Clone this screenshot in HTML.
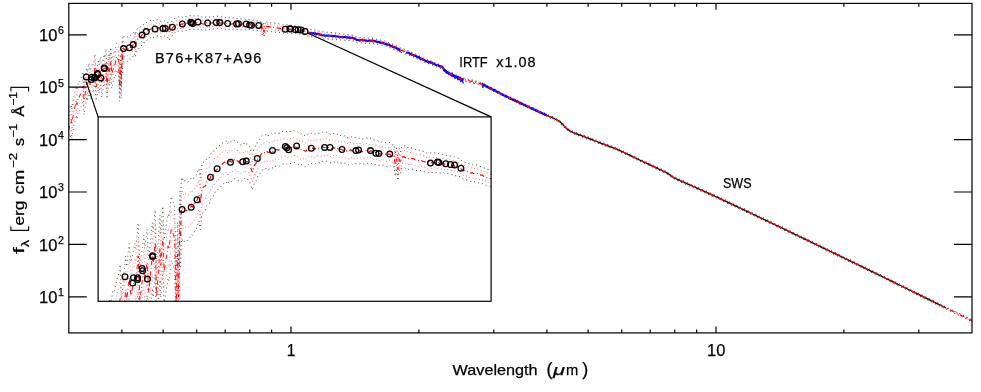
<!DOCTYPE html>
<html><head><meta charset="utf-8"><title>SED</title>
<style>html,body{margin:0;padding:0;background:#fff;}svg{display:block;}</style>
</head><body>
<svg width="981" height="392" viewBox="0 0 981 392" font-family="Liberation Sans, sans-serif" fill="#000">
<rect width="981" height="392" fill="#fff"/>
<defs>
<clipPath id="cm"><rect x="68.8" y="3.4" width="903.2" height="329.5"/></clipPath>
<clipPath id="ci"><rect x="98.1" y="116.9" width="393.0" height="184.4"/></clipPath>
</defs>
<g clip-path="url(#cm)" fill="none" stroke-linejoin="round">
<path d="M68.7 115.8L71.1 104.8L71.7 109.7L73.1 101.4L74.1 95.4L76.4 86.1L76.9 90.3L78.3 82.6L79.2 83.1L81.4 77.1L81.8 76.6L83.2 71.7L84.0 86.3L86.8 68.2L87.4 72.6L89.0 63.0L90.1 70.8L92.7 63.0L93.3 65.1L94.9 54.2L96.0 73.1L98.6 59.5L99.1 65.1L100.7 57.0L101.7 69.7L104.1 54.2L104.6 58.1L106.0 48.8L106.9 71.5L109.1 51.1L109.6 58.6L110.9 47.3L111.8 61.4L114.3 50.5L114.9 51.9L116.5 43.2L118.6 47.3L119.6 74.6L120.5 54.1L121.2 72.2L122.0 40.7" stroke="#000" stroke-width="1" stroke-dasharray="1 3.2" stroke-opacity="0.62"/>
<path d="M68.7 145.0L71.1 133.9L71.7 138.8L73.1 130.5L74.1 124.4L76.4 114.9L76.9 119.2L78.3 111.4L79.2 111.9L81.4 105.8L81.8 105.3L83.2 100.2L84.0 114.8L86.8 96.6L87.4 101.0L89.0 91.3L90.1 99.0L92.7 91.0L93.3 93.1L94.9 82.1L96.0 101.0L98.6 87.2L99.1 92.8L100.7 84.6L101.7 97.3L104.1 81.7L104.6 85.5L106.0 76.2L106.9 98.8L109.1 78.2L109.6 85.7L110.9 74.4L111.8 88.4L114.3 77.4L114.9 78.7L116.5 69.9L118.6 73.9L119.6 101.2L120.5 80.6L121.2 98.6L122.0 67.1" stroke="#000" stroke-width="1" stroke-dasharray="1 3.2" stroke-opacity="0.62"/>
<path d="M68.7 122.3L71.1 111.2L71.7 116.2L73.1 107.9L74.1 101.8L76.4 92.5L76.9 96.7L78.3 89.0L79.2 89.5L81.4 83.5L81.8 83.0L83.2 78.0L84.0 92.6L86.8 74.5L87.4 78.9L89.0 69.3L90.1 77.0L92.7 69.2L93.3 71.3L94.9 60.4L96.0 79.3L98.6 65.6L99.1 71.3L100.7 63.1L101.7 75.8L104.1 60.3L104.6 64.2L106.0 54.9L106.9 77.6L109.1 57.1L109.6 64.6L110.9 53.3L111.8 67.4L114.3 56.5L114.9 57.9L116.5 49.1L118.6 53.2L119.6 80.5L120.5 60.0L121.2 78.0L122.0 46.6" stroke="#ff0000" stroke-width="1" stroke-dasharray="1 2.5" stroke-opacity="0.4"/>
<path d="M68.7 138.5L71.1 127.4L71.7 132.4L73.1 124.0L74.1 117.9L76.4 108.5L76.9 112.8L78.3 105.0L79.2 105.5L81.4 99.4L81.8 98.9L83.2 93.9L84.0 108.4L86.8 90.3L87.4 94.7L89.0 85.0L90.1 92.7L92.7 84.8L93.3 86.9L94.9 75.9L96.0 94.8L98.6 81.1L99.1 86.7L100.7 78.5L101.7 91.2L104.1 75.6L104.6 79.4L106.0 70.1L106.9 92.7L109.1 72.2L109.6 79.7L110.9 68.4L111.8 82.4L114.3 71.4L114.9 72.8L116.5 64.0L118.6 68.0L119.6 95.3L120.5 74.7L121.2 92.7L122.0 61.2" stroke="#ff0000" stroke-width="1" stroke-dasharray="1 2.5" stroke-opacity="0.4"/>
<path d="M122.5 46.7L122.9 36.3L123.5 35.1L124.3 37.0L125.2 36.6L126.0 36.5L126.9 37.2L127.7 36.9L128.5 36.4L129.4 35.3L130.2 35.9L131.1 35.4L131.9 34.6L132.8 34.2L133.6 32.8L134.5 31.5L135.3 35.5L136.2 30.4L137.0 29.0L137.9 28.6L138.7 28.6L139.5 27.0L140.4 26.9L141.2 26.7L142.1 25.2L142.9 24.8L143.8 24.7L144.6 23.2L145.5 23.1L146.3 22.8L147.2 22.0L148.0 21.8L148.9 21.3L149.7 20.7L150.6 20.4L151.4 20.2L152.2 19.9L153.1 21.1L153.9 20.2L154.8 19.9L155.6 20.5L156.5 19.9L157.3 19.8L158.2 19.7L159.0 20.2L159.9 20.5L160.7 21.2L161.6 21.6L162.4 21.4L163.2 21.6L164.1 20.6L164.9 21.3L165.8 21.1L166.6 21.3L167.5 22.2L168.3 24.1L169.2 25.5L170.0 23.7L170.9 22.3L171.7 21.8L172.6 20.3L173.4 19.5L174.3 19.0L175.1 18.0L175.9 17.4L176.8 17.7L177.6 17.4L178.5 16.9L179.3 17.6L180.2 17.5L181.0 17.2L181.9 16.8L182.7 17.3L183.6 16.7L184.4 16.5L185.3 16.5L186.1 16.8L186.9 16.6L187.8 16.0L188.6 15.9L189.5 15.8L190.3 15.6L191.2 15.8L192.0 16.3L192.9 16.0L193.7 15.9L194.6 15.9L195.4 15.6L196.3 15.6L197.1 15.8L198.0 15.9L198.8 16.2L199.6 16.7L200.5 17.2L201.3 16.8L202.2 17.2L203.0 17.5L203.9 17.8L204.7 17.3L205.6 17.0L206.4 16.5L207.3 16.9L208.1 16.5L209.0 16.8L209.8 17.1L210.6 16.7L211.5 16.6L212.3 16.7L213.2 16.7L214.0 16.7L214.9 16.2L215.7 16.5L216.6 16.6L217.4 16.2L218.3 16.6L219.1 16.7L220.0 17.1L220.8 17.2L221.7 16.8L222.5 16.9L223.3 17.2L224.2 16.9L225.0 17.3L225.9 17.9L226.7 17.5L227.6 17.8L228.4 18.1L229.3 17.7L230.1 18.2L231.0 18.4L231.8 18.6L232.7 18.1L233.5 18.0L234.3 18.5L235.2 18.6L236.0 18.3L236.9 18.5L237.7 18.7L238.6 18.8L239.4 18.6L240.3 19.0L241.1 19.0L242.0 18.8L242.8 18.6L243.7 18.6L244.5 18.8L245.4 19.2L246.2 18.8L247.0 19.0L247.9 19.5L248.7 19.5L249.6 19.6L250.4 19.6L251.3 20.0L252.1 20.3L253.0 20.4L253.8 20.2L254.7 20.2L255.5 20.5L256.4 20.8L257.2 21.0L258.0 20.6L258.9 20.6L259.7 21.4L260.6 21.5L261.4 21.2L262.3 25.3L263.1 22.7L264.0 27.2L264.8 22.9L265.7 24.4L266.5 22.1L267.4 22.0L268.2 22.0L269.0 22.4L269.9 22.2L270.7 22.8L271.6 22.7L272.4 22.8L273.3 22.9L274.1 23.0L275.0 23.3L275.8 23.5L276.7 23.5L277.5 23.9L278.4 23.7L279.2 23.9L280.1 24.2L280.9 24.4L281.7 24.5L282.6 24.9L283.4 25.0L284.3 24.7L285.1 25.0L286.0 24.9L286.8 25.0L287.7 24.9L288.5 25.0L289.4 25.3L290.2 25.1L291.1 25.4L291.9 25.5L292.7 25.6L293.6 25.3L294.4 25.7L295.3 25.9L296.1 25.9L297.0 25.8L297.8 26.2L298.7 26.3L299.5 26.4L300.4 26.3L301.2 26.8L302.1 27.0L302.9 27.0L303.8 27.4L304.6 27.4L305.4 28.2L306.3 28.4L307.1 28.6L308.0 28.9L308.8 28.9L309.7 29.3L310.5 29.5L311.4 29.7L312.2 29.5L313.1 30.0L313.9 29.9L314.8 30.0L315.6 30.0L316.4 30.4L317.3 30.6L318.1 30.7L319.0 30.8L319.8 31.3L320.7 31.2L321.5 31.7L322.4 31.8L323.2 31.9L324.1 32.2L327.0 32.2L333.0 32.7L340.0 33.8L346.0 34.3L350.2 34.8L354.0 35.4L357.5 37.4L362.0 37.3L366.0 38.1L371.0 38.0L377.0 39.3L383.2 40.6L388.0 42.2L392.0 44.0L396.0 45.8L400.4 47.8L403.0 48.8L406.2 50.0L413.0 53.0L420.0 56.3L423.2 57.9L430.0 60.6L436.0 63.0L442.0 65.4L443.3 66.7L444.6 68.9L447.0 70.3L450.0 71.9L453.6 73.7L458.0 75.8L463.4 78.0L470.0 79.5L476.0 80.9L482.5 82.9L490.0 86.8L500.0 92.1L510.0 96.9L520.0 101.7L533.0 107.7L546.8 114.1L552.0 116.3L557.1 118.7L560.0 120.5L563.0 123.5L566.0 126.7L569.0 129.2L572.0 130.8L576.0 132.4L580.4 134.0L590.0 137.7L600.0 141.6L616.0 147.6L628.0 153.2L640.0 159.0L655.0 166.0L666.8 171.6L669.5 173.4L672.0 175.4L675.7 177.4L690.0 183.8L711.4 193.4L740.0 206.8L780.0 225.9L820.0 245.2L860.0 264.5L900.0 284.1L946.6 307.2L972.0 319.5L985.0 325.9" stroke="#000" stroke-width="1" stroke-dasharray="1 3.2" stroke-opacity="0.8"/>
<path d="M122.5 72.9L122.9 62.3L123.5 61.0L124.3 62.6L125.2 61.9L126.0 61.5L126.9 61.9L127.7 61.3L128.5 60.5L129.4 59.1L130.2 59.4L131.1 58.6L131.9 57.5L132.8 56.7L133.6 55.1L134.5 53.4L135.3 57.1L136.2 51.7L137.0 50.0L137.9 49.2L138.7 48.9L139.5 47.0L140.4 46.6L141.2 46.1L142.1 44.3L142.9 43.6L143.8 43.2L144.6 41.5L145.5 41.3L146.3 40.8L147.2 39.9L148.0 39.6L148.9 38.9L149.7 38.2L150.6 37.7L151.4 37.3L152.2 36.9L153.1 38.0L153.9 37.0L154.8 36.5L155.6 36.9L156.5 36.1L157.3 35.9L158.2 35.6L159.0 36.0L159.9 36.2L160.7 36.7L161.6 37.0L162.4 36.6L163.2 36.6L164.1 35.6L164.9 36.3L165.8 36.0L166.6 36.2L167.5 37.1L168.3 38.9L169.2 40.3L170.0 38.5L170.9 37.0L171.7 36.5L172.6 34.9L173.4 34.1L174.3 33.5L175.1 32.5L175.9 31.9L176.8 32.1L177.6 31.8L178.5 31.2L179.3 31.9L180.2 31.8L181.0 31.4L181.9 31.0L182.7 31.4L183.6 30.7L184.4 30.6L185.3 30.5L186.1 30.7L186.9 30.5L187.8 29.8L188.6 29.7L189.5 29.5L190.3 29.3L191.2 29.4L192.0 29.9L192.9 29.6L193.7 29.4L194.6 29.3L195.4 29.0L196.3 28.9L197.1 29.1L198.0 29.2L198.8 29.4L199.6 29.9L200.5 30.3L201.3 29.8L202.2 30.2L203.0 30.5L203.9 30.7L204.7 30.1L205.6 29.8L206.4 29.2L207.3 29.6L208.1 29.2L209.0 29.4L209.8 29.7L210.6 29.2L211.5 29.1L212.3 29.1L213.2 29.1L214.0 29.0L214.9 28.5L215.7 28.7L216.6 28.7L217.4 28.4L218.3 28.6L219.1 28.8L220.0 29.0L220.8 29.2L221.7 28.6L222.5 28.7L223.3 29.0L224.2 28.7L225.0 29.0L225.9 29.5L226.7 29.1L227.6 29.4L228.4 29.6L229.3 29.2L230.1 29.6L231.0 29.8L231.8 29.9L232.7 29.4L233.5 29.2L234.3 29.7L235.2 29.7L236.0 29.3L236.9 29.5L237.7 29.6L238.6 29.7L239.4 29.4L240.3 29.8L241.1 29.8L242.0 29.5L242.8 29.3L243.7 29.2L244.5 29.4L245.4 29.7L246.2 29.2L247.0 29.4L247.9 29.8L248.7 29.7L249.6 29.8L250.4 29.8L251.3 30.1L252.1 30.3L253.0 30.4L253.8 30.1L254.7 30.0L255.5 30.3L256.4 30.6L257.2 30.6L258.0 30.3L258.9 30.2L259.7 30.9L260.6 31.0L261.4 30.7L262.3 34.7L263.1 32.1L264.0 36.5L264.8 32.2L265.7 33.6L266.5 31.3L267.4 31.2L268.2 31.1L269.0 31.5L269.9 31.2L270.7 31.8L271.6 31.6L272.4 31.7L273.3 31.7L274.1 31.8L275.0 32.1L275.8 32.3L276.7 32.2L277.5 32.5L278.4 32.3L279.2 32.4L280.1 32.7L280.9 32.8L281.7 32.9L282.6 33.3L283.4 33.3L284.3 33.0L285.1 33.2L286.0 33.1L286.8 33.1L287.7 33.0L288.5 33.0L289.4 33.3L290.2 33.1L291.1 33.3L291.9 33.4L292.7 33.5L293.6 33.2L294.4 33.6L295.3 33.7L296.1 33.6L297.0 33.6L297.8 33.9L298.7 34.0L299.5 34.1L300.4 33.9L301.2 34.4L302.1 34.6L302.9 34.6L303.8 34.9L304.6 34.9L305.4 35.6L306.3 35.8L307.1 36.0L308.0 36.3L308.8 36.3L309.7 36.6L310.5 36.8L311.4 37.0L312.2 36.8L313.1 37.2L313.9 37.1L314.8 37.2L315.6 37.1L316.4 37.5L317.3 37.6L318.1 37.7L319.0 37.8L319.8 38.2L320.7 38.2L321.5 38.6L322.4 38.7L323.2 38.8L324.1 39.1L327.0 39.0L333.0 39.3L340.0 40.0L346.0 40.3L350.2 40.6L354.0 41.2L357.5 43.0L362.0 42.7L366.0 43.3L371.0 43.2L377.0 44.3L383.2 45.4L388.0 47.0L392.0 48.6L396.0 50.2L400.4 52.2L403.0 53.0L406.2 54.2L413.0 57.0L420.0 60.1L423.2 61.7L430.0 64.2L436.0 66.6L442.0 68.8L443.3 70.1L444.6 72.3L447.0 73.7L450.0 75.3L453.6 77.1L458.0 79.0L463.4 81.2L470.0 82.5L476.0 83.9L482.5 85.7L490.0 89.6L500.0 94.7L510.0 99.5L520.0 104.3L533.0 110.3L546.8 116.7L552.0 118.9L557.1 121.3L560.0 123.1L563.0 126.1L566.0 129.3L569.0 131.6L572.0 133.2L576.0 134.8L580.4 136.4L590.0 140.1L600.0 144.0L616.0 150.0L628.0 155.6L640.0 161.4L655.0 168.4L666.8 174.0L669.5 175.8L672.0 177.8L675.7 179.8L690.0 186.2L711.4 195.8L740.0 209.2L780.0 228.3L820.0 247.6L860.0 266.9L900.0 286.5L946.6 309.4L972.0 321.7L985.0 328.1" stroke="#000" stroke-width="1" stroke-dasharray="1 3.2" stroke-opacity="0.8"/>
<path d="M122.5 52.5L122.9 42.1L123.5 40.8L124.3 42.7L125.2 42.2L126.0 42.0L126.9 42.7L127.7 42.3L128.5 41.7L129.4 40.6L130.2 41.1L131.1 40.6L131.9 39.7L132.8 39.2L133.6 37.8L134.5 36.4L135.3 40.3L136.2 35.1L137.0 33.7L137.9 33.2L138.7 33.1L139.5 31.4L140.4 31.3L141.2 31.1L142.1 29.4L142.9 29.0L143.8 28.8L144.6 27.3L145.5 27.1L146.3 26.8L147.2 25.9L148.0 25.8L148.9 25.2L149.7 24.6L150.6 24.2L151.4 24.0L152.2 23.7L153.1 24.9L153.9 24.0L154.8 23.6L155.6 24.2L156.5 23.5L157.3 23.3L158.2 23.2L159.0 23.7L159.9 24.0L160.7 24.6L161.6 25.0L162.4 24.8L163.2 24.9L164.1 23.9L164.9 24.6L165.8 24.4L166.6 24.6L167.5 25.5L168.3 27.4L169.2 28.8L170.0 27.0L170.9 25.6L171.7 25.1L172.6 23.5L173.4 22.7L174.3 22.2L175.1 21.3L175.9 20.7L176.8 20.9L177.6 20.6L178.5 20.0L179.3 20.8L180.2 20.7L181.0 20.3L181.9 20.0L182.7 20.4L183.6 19.8L184.4 19.7L185.3 19.6L186.1 19.9L186.9 19.7L187.8 19.1L188.6 19.0L189.5 18.8L190.3 18.7L191.2 18.8L192.0 19.3L192.9 19.0L193.7 18.9L194.6 18.9L195.4 18.6L196.3 18.5L197.1 18.8L198.0 18.9L198.8 19.1L199.6 19.6L200.5 20.1L201.3 19.7L202.2 20.1L203.0 20.4L203.9 20.6L204.7 20.1L205.6 19.8L206.4 19.3L207.3 19.7L208.1 19.3L209.0 19.6L209.8 19.9L210.6 19.4L211.5 19.4L212.3 19.4L213.2 19.5L214.0 19.4L214.9 18.9L215.7 19.2L216.6 19.3L217.4 18.9L218.3 19.2L219.1 19.4L220.0 19.7L220.8 19.9L221.7 19.4L222.5 19.5L223.3 19.8L224.2 19.5L225.0 19.9L225.9 20.5L226.7 20.1L227.6 20.4L228.4 20.6L229.3 20.3L230.1 20.7L231.0 20.9L231.8 21.1L232.7 20.6L233.5 20.5L234.3 21.0L235.2 21.1L236.0 20.8L236.9 21.0L237.7 21.1L238.6 21.2L239.4 21.0L240.3 21.4L241.1 21.4L242.0 21.2L242.8 21.0L243.7 21.0L244.5 21.2L245.4 21.5L246.2 21.1L247.0 21.3L247.9 21.8L248.7 21.7L249.6 21.9L250.4 21.9L251.3 22.2L252.1 22.5L253.0 22.6L253.8 22.4L254.7 22.4L255.5 22.6L256.4 23.0L257.2 23.1L258.0 22.8L258.9 22.7L259.7 23.5L260.6 23.6L261.4 23.3L262.3 27.4L263.1 24.8L264.0 29.3L264.8 25.0L265.7 26.4L266.5 24.1L267.4 24.1L268.2 24.0L269.0 24.4L269.9 24.2L270.7 24.8L271.6 24.7L272.4 24.8L273.3 24.8L274.1 24.9L275.0 25.3L275.8 25.5L276.7 25.5L277.5 25.8L278.4 25.6L279.2 25.8L280.1 26.1L280.9 26.3L281.7 26.3L282.6 26.8L283.4 26.8L284.3 26.6L285.1 26.8L286.0 26.7L286.8 26.8L287.7 26.7L288.5 26.8L289.4 27.0L290.2 26.9L291.1 27.1L291.9 27.2L292.7 27.4L293.6 27.1L294.4 27.5L295.3 27.6L296.1 27.6L297.0 27.6L297.8 27.9L298.7 28.0L299.5 28.1L300.4 28.0L301.2 28.5L302.1 28.7L302.9 28.7L303.8 29.1L304.6 29.1L305.4 29.8L306.3 30.0L307.1 30.2L308.0 30.6L308.8 30.6L309.7 30.9L310.5 31.1L311.4 31.3L312.2 31.1L313.1 31.6L313.9 31.5L314.8 31.6L315.6 31.6L316.4 32.0L317.3 32.1L318.1 32.3L319.0 32.3L319.8 32.8L320.7 32.8L321.5 33.3L322.4 33.4L323.2 33.5L324.1 33.8L327.0 33.7L333.0 34.2L340.0 35.2L346.0 35.6L350.2 36.1L354.0 36.7L357.5 38.6L362.0 38.5L366.0 39.2L371.0 39.2L377.0 40.4L383.2 41.7L388.0 43.3L392.0 45.0L396.0 46.8L400.4 48.8L403.0 49.7L406.2 50.9L413.0 53.9L420.0 57.2L423.2 58.8L430.0 61.4L436.0 63.8L442.0 66.1L443.3 67.4L444.6 69.6L447.0 71.1L450.0 72.7L453.6 74.5L458.0 76.5L463.4 78.7L470.0 80.2L476.0 81.6L482.5 83.5L490.0 87.4L500.0 92.7L510.0 97.5L520.0 102.3L533.0 108.3L546.8 114.7L552.0 116.9L557.1 119.3L560.0 121.1L563.0 124.1L566.0 127.3L569.0 129.7L572.0 131.3L576.0 132.9L580.4 134.5L590.0 138.2L600.0 142.1L616.0 148.1L628.0 153.7L640.0 159.5L655.0 166.5L666.8 172.1L669.5 173.9L672.0 175.9L675.7 177.9L690.0 184.3L711.4 193.9L740.0 207.3L780.0 226.4L820.0 245.7L860.0 265.0L900.0 284.7L946.6 307.7L972.0 320.0L985.0 326.4" stroke="#ff0000" stroke-width="1" stroke-dasharray="1 2.5" stroke-opacity="0.62"/>
<path d="M122.5 67.1L122.9 56.5L123.5 55.2L124.3 56.9L125.2 56.3L126.0 55.9L126.9 56.4L127.7 55.9L128.5 55.1L129.4 53.8L130.2 54.2L131.1 53.5L131.9 52.4L132.8 51.7L133.6 50.1L134.5 48.5L135.3 52.3L136.2 46.9L137.0 45.4L137.9 44.7L138.7 44.4L139.5 42.6L140.4 42.3L141.2 41.8L142.1 40.0L142.9 39.4L143.8 39.1L144.6 37.4L145.5 37.2L146.3 36.8L147.2 35.9L148.0 35.6L148.9 35.0L149.7 34.3L150.6 33.9L151.4 33.5L152.2 33.1L153.1 34.2L153.9 33.3L154.8 32.8L155.6 33.3L156.5 32.5L157.3 32.3L158.2 32.1L159.0 32.5L159.9 32.7L160.7 33.3L161.6 33.6L162.4 33.2L163.2 33.3L164.1 32.3L164.9 32.9L165.8 32.7L166.6 32.9L167.5 33.8L168.3 35.6L169.2 37.0L170.0 35.2L170.9 33.8L171.7 33.2L172.6 31.7L173.4 30.8L174.3 30.3L175.1 29.3L175.9 28.7L176.8 28.9L177.6 28.6L178.5 28.0L179.3 28.7L180.2 28.6L181.0 28.2L181.9 27.8L182.7 28.3L183.6 27.6L184.4 27.4L185.3 27.4L186.1 27.7L186.9 27.4L187.8 26.7L188.6 26.6L189.5 26.4L190.3 26.3L191.2 26.4L192.0 26.9L192.9 26.5L193.7 26.4L194.6 26.3L195.4 26.0L196.3 25.9L197.1 26.2L198.0 26.3L198.8 26.5L199.6 26.9L200.5 27.4L201.3 26.9L202.2 27.3L203.0 27.6L203.9 27.8L204.7 27.3L205.6 27.0L206.4 26.4L207.3 26.8L208.1 26.4L209.0 26.6L209.8 26.9L210.6 26.4L211.5 26.3L212.3 26.3L213.2 26.4L214.0 26.3L214.9 25.7L215.7 26.0L216.6 26.0L217.4 25.7L218.3 26.0L219.1 26.1L220.0 26.4L220.8 26.5L221.7 26.0L222.5 26.1L223.3 26.4L224.2 26.0L225.0 26.4L225.9 27.0L226.7 26.6L227.6 26.8L228.4 27.0L229.3 26.6L230.1 27.0L231.0 27.3L231.8 27.4L232.7 26.9L233.5 26.7L234.3 27.2L235.2 27.3L236.0 26.9L236.9 27.1L237.7 27.2L238.6 27.2L239.4 27.0L240.3 27.4L241.1 27.4L242.0 27.1L242.8 26.9L243.7 26.9L244.5 27.0L245.4 27.3L246.2 26.9L247.0 27.1L247.9 27.5L248.7 27.4L249.6 27.6L250.4 27.5L251.3 27.8L252.1 28.1L253.0 28.2L253.8 27.9L254.7 27.8L255.5 28.1L256.4 28.4L257.2 28.5L258.0 28.1L258.9 28.1L259.7 28.8L260.6 28.9L261.4 28.6L262.3 32.6L263.1 30.0L264.0 34.5L264.8 30.1L265.7 31.6L266.5 29.2L267.4 29.1L268.2 29.0L269.0 29.4L269.9 29.2L270.7 29.8L271.6 29.6L272.4 29.7L273.3 29.7L274.1 29.8L275.0 30.2L275.8 30.3L276.7 30.3L277.5 30.6L278.4 30.4L279.2 30.5L280.1 30.8L280.9 31.0L281.7 31.0L282.6 31.4L283.4 31.5L284.3 31.2L285.1 31.4L286.0 31.3L286.8 31.3L287.7 31.2L288.5 31.2L289.4 31.5L290.2 31.3L291.1 31.5L291.9 31.6L292.7 31.7L293.6 31.4L294.4 31.8L295.3 31.9L296.1 31.9L297.0 31.9L297.8 32.2L298.7 32.3L299.5 32.4L300.4 32.2L301.2 32.7L302.1 32.9L302.9 32.9L303.8 33.2L304.6 33.2L305.4 34.0L306.3 34.2L307.1 34.4L308.0 34.7L308.8 34.7L309.7 34.9L310.5 35.1L311.4 35.3L312.2 35.2L313.1 35.6L313.9 35.5L314.8 35.6L315.6 35.5L316.4 35.9L317.3 36.1L318.1 36.2L319.0 36.2L319.8 36.7L320.7 36.6L321.5 37.1L322.4 37.2L323.2 37.3L324.1 37.5L327.0 37.5L333.0 37.8L340.0 38.6L346.0 39.0L350.2 39.3L354.0 39.9L357.5 41.8L362.0 41.5L366.0 42.2L371.0 42.0L377.0 43.2L383.2 44.3L388.0 45.9L392.0 47.6L396.0 49.2L400.4 51.2L403.0 52.1L406.2 53.3L413.0 56.1L420.0 59.2L423.2 60.8L430.0 63.4L436.0 65.8L442.0 68.1L443.3 69.4L444.6 71.6L447.0 72.9L450.0 74.5L453.6 76.3L458.0 78.3L463.4 80.5L470.0 81.8L476.0 83.2L482.5 85.1L490.0 89.0L500.0 94.1L510.0 98.9L520.0 103.7L533.0 109.7L546.8 116.1L552.0 118.3L557.1 120.7L560.0 122.5L563.0 125.5L566.0 128.7L569.0 131.1L572.0 132.7L576.0 134.3L580.4 135.9L590.0 139.6L600.0 143.5L616.0 149.5L628.0 155.1L640.0 160.9L655.0 167.9L666.8 173.5L669.5 175.3L672.0 177.3L675.7 179.3L690.0 185.7L711.4 195.3L740.0 208.7L780.0 227.8L820.0 247.1L860.0 266.4L900.0 285.9L946.6 308.9L972.0 321.2L985.0 327.6" stroke="#ff0000" stroke-width="1" stroke-dasharray="1 2.5" stroke-opacity="0.62"/>
</g>
<g clip-path="url(#cm)">
<path d="M308.00 32.39L308.70 32.75L309.40 32.77L310.10 33.22L310.80 33.23L311.50 33.17L312.20 33.36L312.90 33.35L313.60 33.14L314.30 33.89L315.00 33.23L315.70 33.71L316.40 34.07L317.10 34.08L317.80 33.87L318.50 34.44L319.20 34.14L319.90 34.51L320.60 34.65L321.30 35.21L322.00 35.30L322.70 35.46L323.40 35.34L324.10 35.62L324.80 35.43L325.50 35.57L326.20 35.72L326.90 35.55L327.60 35.73L328.30 35.58L329.00 35.63L329.70 35.79L330.40 35.79L331.10 35.98L331.80 35.95L332.50 36.28L333.20 35.99L333.90 36.07L334.60 36.02L335.30 36.30L336.00 36.51L336.70 36.34L337.40 36.56L338.10 36.79L338.80 36.72L339.50 36.74L340.20 37.09L340.90 36.98L341.60 37.08L342.30 37.26L343.00 37.31L343.70 37.08L344.40 37.10L345.10 37.29L345.80 37.26L346.50 37.01L347.20 37.64L347.90 37.48L348.60 37.68L349.30 37.40L350.00 37.91L350.70 37.67L351.40 37.87L352.10 37.75L352.80 38.08L353.50 38.18L354.20 38.38L354.90 38.87L355.60 39.18L356.30 39.72L357.00 39.84L357.70 40.01L358.40 40.16L359.10 40.24L359.80 40.32L360.50 40.21L361.20 39.72L361.90 40.07L362.60 40.37L363.30 40.24L364.00 40.26L364.70 40.53L365.40 40.50L366.10 40.81L366.80 40.68L367.50 40.92L368.20 40.75L368.90 40.51L369.60 40.74L370.30 40.78L371.00 40.50L371.70 40.66L372.40 40.47L373.10 41.18L373.80 41.05L374.50 40.92L375.20 41.12L375.90 41.54L376.60 41.86L377.30 41.84L378.00 42.08L378.70 41.93L379.40 42.02L380.10 42.56L380.80 42.62L381.50 42.67L382.20 43.04L382.90 42.77L383.60 43.06L384.30 43.55L385.00 43.93L385.70 43.83L386.40 44.37L387.10 44.19L387.80 44.59L388.50 44.78L389.20 44.82L389.90 45.45L390.60 45.87L391.30 45.98L392.00 46.29L392.70 46.85L393.40 46.67L394.10 46.92L394.80 47.37L395.50 47.57L396.20 48.33L396.90 48.46L397.60 48.57L398.30 48.93L399.00 49.88L399.70 49.57L400.40 49.86" stroke="#0000ff" stroke-width="2.15" fill="none" stroke-linejoin="round"/>
<path d="M406.20 52.18L406.90 52.56L407.60 52.75L408.30 52.77L409.00 53.00L409.70 53.74L410.40 53.88L411.10 53.78L411.80 54.78L412.50 54.98L413.20 55.03L413.90 55.35L414.60 55.79L415.30 55.88L416.00 56.03L416.70 56.77L417.40 56.65L418.10 57.43L418.80 57.29L419.50 57.95L420.20 58.27L420.90 59.10L421.60 58.73L422.30 59.00L423.00 59.54L423.70 59.71L424.40 60.11L425.10 60.63L425.80 60.99L426.50 61.48L427.20 61.15L427.90 62.26L428.60 62.36L429.30 62.08L430.00 61.83L430.70 62.66L431.40 62.98L432.10 62.67L432.80 63.54L433.50 63.75L434.20 63.88L434.90 64.52L435.60 64.89L436.30 64.79L437.00 65.24L437.70 65.29L438.40 65.52L439.10 66.01L439.80 66.39L440.50 66.38L441.20 66.24L441.90 67.21L442.60 67.30L443.30 68.43L444.00 70.03L444.70 70.65L445.40 70.77L446.10 71.11L446.80 72.18L447.50 72.26L448.20 72.77L448.90 73.24L449.60 73.37L450.30 73.67L451.00 73.86L451.70 73.68L452.40 74.42L453.10 75.13L453.80 75.45L454.50 75.91L455.20 76.10L455.90 76.49L456.60 76.96L457.30 76.86L458.00 77.33L458.70 77.28L459.40 78.21L460.10 78.27L460.80 78.66L461.50 79.21L462.20 79.38L462.90 79.38L463.60 79.84" stroke="#0000ff" stroke-width="2.15" fill="none" stroke-linejoin="round"/>
<path d="M482.30 83.93L483.00 84.66L483.70 84.95L484.40 84.93L485.10 85.95L485.80 85.86L486.50 86.53L487.20 86.65L487.90 87.33L488.60 87.76L489.30 87.65L490.00 87.86L490.70 88.54L491.40 89.11L492.10 89.21L492.80 89.52L493.50 90.13L494.20 89.78L494.90 90.60L495.60 90.81L496.30 91.54L497.00 91.68L497.70 91.96L498.40 92.49L499.10 92.61L499.80 93.29L500.50 93.49L501.20 93.89L501.90 94.15L502.60 94.85L503.30 94.96L504.00 95.44L504.70 95.76L505.40 95.81L506.10 96.45L506.80 96.74L507.50 97.07L508.20 97.25L508.90 97.58L509.60 98.18L510.30 98.82L511.00 98.50L511.70 99.13L512.40 99.27L513.10 99.86L513.80 100.12L514.50 100.59L515.20 100.08L515.90 100.90L516.60 101.15L517.30 101.68L518.00 101.88L518.70 102.23L519.40 102.86L520.10 103.46L520.80 102.75L521.50 103.62L522.20 104.08L522.90 104.34L523.60 104.59L524.30 104.69L525.00 105.10L525.70 105.79L526.40 106.19L527.10 106.30L527.80 106.42L528.50 106.94L529.20 107.19L529.90 107.69L530.60 107.92L531.30 108.08L532.00 108.58L532.70 108.60L533.40 109.37L534.10 109.77L534.80 109.58L535.50 110.25L536.20 110.27L536.90 111.04L537.60 111.33L538.30 111.41L539.00 112.00L539.70 112.01L540.40 112.29L541.10 112.63L541.80 113.05L542.50 113.33L543.20 113.76L543.90 113.92L544.60 114.55L545.30 114.93L546.00 114.92L546.70 115.04" stroke="#0000ff" stroke-width="2.15" fill="none" stroke-linejoin="round"/>
<path d="M546.00 115.03L548.00 115.91L550.00 116.75L552.00 117.60L554.00 118.54L556.00 119.48L558.00 120.56L560.00 121.80L562.00 123.80L564.00 125.87L566.00 128.00L568.00 129.60L570.00 130.93L572.00 132.00L574.00 132.80L576.00 133.60L578.00 134.33L580.00 135.05L582.00 135.82L584.00 136.59L586.00 137.36L588.00 138.13L590.00 138.90L592.00 139.68L594.00 140.46L596.00 141.24L598.00 142.02L600.00 142.80L602.00 143.55L604.00 144.30L606.00 145.05L608.00 145.80L610.00 146.55L612.00 147.30L614.00 148.05L616.00 148.80L618.00 149.73L620.00 150.67L622.00 151.60L624.00 152.53L626.00 153.47L628.00 154.40L630.00 155.37L632.00 156.33L634.00 157.30L636.00 158.27L638.00 159.23L640.00 160.20L642.00 161.13L644.00 162.07L646.00 163.00L648.00 163.93L650.00 164.87L652.00 165.80L654.00 166.73L656.00 167.67L658.00 168.62L660.00 169.57L662.00 170.52L664.00 171.47L666.00 172.42L668.00 173.60L670.00 175.00L672.00 176.60L674.00 177.68L676.00 178.73L678.00 179.63L680.00 180.52L682.00 181.42L684.00 182.31L686.00 183.21L688.00 184.10L690.00 185.00L692.00 185.90L694.00 186.79L696.00 187.69L698.00 188.59L700.00 189.49L702.00 190.38L704.00 191.28L706.00 192.18L708.00 193.07L710.00 193.97L712.00 194.88L714.00 195.82L716.00 196.76L718.00 197.69L720.00 198.63L722.00 199.57L724.00 200.50L726.00 201.44L728.00 202.38L730.00 203.31L732.00 204.25L734.00 205.19L736.00 206.13L738.00 207.06L740.00 208.00L742.00 208.96L744.00 209.91L746.00 210.87L748.00 211.82L750.00 212.78L752.00 213.73L754.00 214.69L756.00 215.64L758.00 216.60L760.00 217.55L762.00 218.50L764.00 219.46L766.00 220.42L768.00 221.37L770.00 222.32L772.00 223.28L774.00 224.24L776.00 225.19L778.00 226.15L780.00 227.10L782.00 228.06L784.00 229.03L786.00 230.00L788.00 230.96L790.00 231.93L792.00 232.89L794.00 233.86L796.00 234.82L798.00 235.79L800.00 236.75L802.00 237.72L804.00 238.68L806.00 239.65L808.00 240.61L810.00 241.58L812.00 242.54L814.00 243.50L816.00 244.47L818.00 245.44L820.00 246.40L822.00 247.37L824.00 248.33L826.00 249.30L828.00 250.26L830.00 251.23L832.00 252.19L834.00 253.16L836.00 254.12L838.00 255.09L840.00 256.05L842.00 257.01L844.00 257.98L846.00 258.94L848.00 259.91L850.00 260.88L852.00 261.84L854.00 262.81L856.00 263.77L858.00 264.74L860.00 265.70L862.00 266.68L864.00 267.66L866.00 268.64L868.00 269.62L870.00 270.60L872.00 271.58L874.00 272.56L876.00 273.54L878.00 274.52L880.00 275.50L882.00 276.48L884.00 277.46L886.00 278.44L888.00 279.42L890.00 280.40L892.00 281.38L894.00 282.36L896.00 283.34L898.00 284.32L900.00 285.30L902.00 286.29L904.00 287.27L906.00 288.26L908.00 289.25L910.00 290.24L912.00 291.22L914.00 292.21L916.00 293.20L918.00 294.18L920.00 295.17L922.00 296.16L924.00 297.15L926.00 298.13L928.00 299.12L930.00 300.11L932.00 301.09L934.00 302.08L936.00 303.07L938.00 304.06L940.00 305.04L942.00 306.03L944.00 307.02L946.00 308.00" stroke="#000" stroke-width="1.25" fill="none" stroke-linejoin="round"/>
</g>
<g clip-path="url(#cm)" fill="none" stroke="#0000ff" stroke-width="1.2">
<path d="M444.6 70.6L446 72.8L447.4 72L449 74.6L450.6 73.8L452 76.6L453.6 75.6L455 78.4L456.6 77.2L458 79.8L459.4 78.6L460.8 81.4L462 80.2L463.4 83.4"/>
<path d="M482.4 82.6L482.8 88L483.4 84.6"/>
<path d="M399.6 49.6L400.3 52.4"/>
</g>
<g clip-path="url(#cm)" fill="none" stroke-linejoin="round" stroke="#ff0000">
<path d="M68.7 130.4L71.1 119.3L71.7 124.3L73.1 116.0L74.1 109.9L76.4 100.5L76.9 104.8L78.3 97.0L79.2 97.5L81.4 91.4L81.8 91.0L83.2 86.0L84.0 100.5L86.8 82.4L87.4 86.8L89.0 77.2L90.1 84.9L92.7 77.0L93.3 79.1L94.9 68.1L96.0 87.1L98.6 73.4L99.1 79.0L100.7 70.8L101.7 83.5L104.1 67.9L104.6 71.8L106.0 62.5L106.9 85.2L109.1 64.6L109.6 72.1L110.9 60.8L111.8 74.9L114.3 63.9L114.9 65.3L116.5 56.5L118.6 60.6L119.6 87.9L120.5 67.3L121.2 85.4L122.0 53.9" stroke-width="0.95" stroke-dasharray="4.6 2.6 0.9 2.6"/>
<path d="M122.5 59.8L122.9 49.3L123.5 48.0L124.3 49.8L125.2 49.3L126.0 49.0L126.9 49.6L127.7 49.1L128.5 48.4L129.4 47.2L130.2 47.7L131.1 47.0L131.9 46.0L132.8 45.4L133.6 43.9L134.5 42.5L135.3 46.3L136.2 41.0L137.0 39.5L137.9 38.9L138.7 38.7L139.5 37.0L140.4 36.8L141.2 36.4L142.1 34.7L142.9 34.2L143.8 33.9L144.6 32.4L145.5 32.2L146.3 31.8L147.2 30.9L148.0 30.7L148.9 30.1L149.7 29.5L150.6 29.1L151.4 28.7L152.2 28.4L153.1 29.6L153.9 28.6L154.8 28.2L155.6 28.7L156.5 28.0L157.3 27.8L158.2 27.6L159.0 28.1L159.9 28.3L160.7 29.0L161.6 29.3L162.4 29.0L163.2 29.1L164.1 28.1L164.9 28.8L165.8 28.6L166.6 28.7L167.5 29.7L168.3 31.5L169.2 32.9L170.0 31.1L170.9 29.7L171.7 29.1L172.6 27.6L173.4 26.8L174.3 26.3L175.1 25.3L175.9 24.7L176.8 24.9L177.6 24.6L178.5 24.0L179.3 24.7L180.2 24.6L181.0 24.3L181.9 23.9L182.7 24.3L183.6 23.7L184.4 23.5L185.3 23.5L186.1 23.8L186.9 23.5L187.8 22.9L188.6 22.8L189.5 22.6L190.3 22.5L191.2 22.6L192.0 23.1L192.9 22.8L193.7 22.7L194.6 22.6L195.4 22.3L196.3 22.2L197.1 22.5L198.0 22.6L198.8 22.8L199.6 23.3L200.5 23.8L201.3 23.3L202.2 23.7L203.0 24.0L203.9 24.2L204.7 23.7L205.6 23.4L206.4 22.8L207.3 23.2L208.1 22.8L209.0 23.1L209.8 23.4L210.6 22.9L211.5 22.8L212.3 22.9L213.2 22.9L214.0 22.9L214.9 22.3L215.7 22.6L216.6 22.6L217.4 22.3L218.3 22.6L219.1 22.8L220.0 23.0L220.8 23.2L221.7 22.7L222.5 22.8L223.3 23.1L224.2 22.8L225.0 23.1L225.9 23.7L226.7 23.3L227.6 23.6L228.4 23.8L229.3 23.5L230.1 23.9L231.0 24.1L231.8 24.2L232.7 23.7L233.5 23.6L234.3 24.1L235.2 24.2L236.0 23.8L236.9 24.0L237.7 24.1L238.6 24.2L239.4 24.0L240.3 24.4L241.1 24.4L242.0 24.1L242.8 24.0L243.7 23.9L244.5 24.1L245.4 24.4L246.2 24.0L247.0 24.2L247.9 24.6L248.7 24.6L249.6 24.7L250.4 24.7L251.3 25.0L252.1 25.3L253.0 25.4L253.8 25.1L254.7 25.1L255.5 25.4L256.4 25.7L257.2 25.8L258.0 25.4L258.9 25.4L259.7 26.1L260.6 26.3L261.4 25.9L262.3 30.0L263.1 27.4L264.0 31.9L264.8 27.6L265.7 29.0L266.5 26.7L267.4 26.6L268.2 26.5L269.0 26.9L269.9 26.7L270.7 27.3L271.6 27.1L272.4 27.3L273.3 27.3L274.1 27.4L275.0 27.7L275.8 27.9L276.7 27.9L277.5 28.2L278.4 28.0L279.2 28.2L280.1 28.4L280.9 28.6L281.7 28.7L282.6 29.1L283.4 29.2L284.3 28.9L285.1 29.1L286.0 29.0L286.8 29.0L287.7 28.9L288.5 29.0L289.4 29.3L290.2 29.1L291.1 29.3L291.9 29.4L292.7 29.6L293.6 29.3L294.4 29.6L295.3 29.8L296.1 29.7L297.0 29.7L297.8 30.0L298.7 30.2L299.5 30.2L300.4 30.1L301.2 30.6L302.1 30.8L302.9 30.8L303.8 31.2L304.6 31.2L305.4 31.9L306.3 32.1L307.1 32.3L308.0 32.6L308.8 32.6L309.7 32.9L310.5 33.1L311.4 33.3L312.2 33.2L313.1 33.6L313.9 33.5L314.8 33.6L315.6 33.5L316.4 33.9L317.3 34.1L318.1 34.2L319.0 34.3L319.8 34.8L320.7 34.7L321.5 35.2L322.4 35.3L323.2 35.4L324.1 35.7L327.0 35.6L333.0 36.0L340.0 36.9L346.0 37.3L350.2 37.7L354.0 38.3L357.5 40.2L362.0 40.0L366.0 40.7L371.0 40.6L377.0 41.8L383.2 43.0L388.0 44.6L392.0 46.3L396.0 48.0L400.4 50.0L403.0 50.9L406.2 52.1L413.0 55.0L420.0 58.2L423.2 59.8L430.0 62.4L436.0 64.8L442.0 67.1L443.3 68.4L444.6 70.6L447.0 72.0L450.0 73.6L453.6 75.4L458.0 77.4L463.4 79.6L470.0 81.0L476.0 82.4L482.5 84.3L490.0 88.2L500.0 93.4L510.0 98.2L520.0 103.0L533.0 109.0L546.8 115.4L552.0 117.6L557.1 120.0L560.0 121.8L563.0 124.8L566.0 128.0L569.0 130.4L572.0 132.0L576.0 133.6L580.4 135.2L590.0 138.9L600.0 142.8L616.0 148.8L628.0 154.4L640.0 160.2L655.0 167.2L666.8 172.8L669.5 174.6L672.0 176.6L675.7 178.6L690.0 185.0L711.4 194.6L740.0 208.0L780.0 227.1L820.0 246.4L860.0 265.7L900.0 285.3L946.6 308.3L972.0 320.6L985.0 327.0" stroke-width="1.2" stroke-dasharray="4.6 2.6 0.9 2.6"/>
</g>
<g fill="none" stroke="#000" stroke-width="1.3">
<circle cx="86.3" cy="76.9" r="2.85"/>
<circle cx="91.3" cy="79.6" r="2.85"/>
<circle cx="91.8" cy="77.3" r="2.85"/>
<circle cx="94.5" cy="77.3" r="2.85"/>
<circle cx="94.5" cy="78.0" r="2.85"/>
<circle cx="97.4" cy="73.4" r="2.85"/>
<circle cx="97.7" cy="74.4" r="2.85"/>
<circle cx="100.9" cy="77.9" r="2.85"/>
<circle cx="104.3" cy="68.1" r="2.85"/>
<circle cx="104.3" cy="68.4" r="2.85"/>
<circle cx="123.5" cy="48.6" r="2.85"/>
<circle cx="129.4" cy="47.7" r="2.85"/>
<circle cx="133.2" cy="44.6" r="2.85"/>
<circle cx="142.0" cy="35.1" r="2.85"/>
<circle cx="146.3" cy="31.6" r="2.85"/>
<circle cx="155.0" cy="28.9" r="2.85"/>
<circle cx="162.9" cy="28.6" r="2.85"/>
<circle cx="165.3" cy="28.4" r="2.85"/>
<circle cx="172.4" cy="27.2" r="2.85"/>
<circle cx="182.3" cy="23.9" r="2.85"/>
<circle cx="190.7" cy="22.2" r="2.85"/>
<circle cx="191.6" cy="22.7" r="2.85"/>
<circle cx="192.8" cy="23.6" r="2.85"/>
<circle cx="198.0" cy="22.0" r="2.85"/>
<circle cx="207.6" cy="23.0" r="2.85"/>
<circle cx="216.2" cy="22.6" r="2.85"/>
<circle cx="219.8" cy="22.6" r="2.85"/>
<circle cx="227.6" cy="23.5" r="2.85"/>
<circle cx="236.6" cy="23.9" r="2.85"/>
<circle cx="238.4" cy="23.7" r="2.85"/>
<circle cx="246.1" cy="23.9" r="2.85"/>
<circle cx="249.6" cy="25.1" r="2.85"/>
<circle cx="251.5" cy="25.2" r="2.85"/>
<circle cx="258.7" cy="25.4" r="2.85"/>
<circle cx="285.2" cy="29.2" r="2.85"/>
<circle cx="289.8" cy="28.7" r="2.85"/>
<circle cx="290.7" cy="28.9" r="2.85"/>
<circle cx="295.1" cy="29.5" r="2.85"/>
<circle cx="298.2" cy="29.8" r="2.85"/>
<circle cx="300.9" cy="29.9" r="2.85"/>
<circle cx="305.0" cy="31.4" r="2.85"/>
</g>
<rect x="98.1" y="116.9" width="393.0" height="184.4" fill="#fff" stroke="none"/>
<g clip-path="url(#ci)" fill="none" stroke-linejoin="round">
<path d="M98.0 369.4L101.7 343.2L102.6 355.0L104.8 335.2L106.3 320.8L109.8 298.6L110.6 308.7L112.7 290.4L114.1 291.6L117.4 277.3L118.2 276.2L120.2 264.4L121.5 299.1L125.7 256.1L126.7 266.6L129.2 243.7L130.9 262.1L134.9 243.5L135.8 248.7L138.2 222.6L139.9 267.7L143.8 235.2L144.7 248.7L147.1 229.3L148.7 259.6L152.3 222.7L153.1 231.9L155.2 209.8L156.6 263.9L160.0 215.2L160.8 233.1L162.8 206.3L164.1 239.7L168.1 213.9L169.0 217.2L171.3 196.4L174.6 206.3L176.2 271.4L177.5 222.4L178.6 265.5L179.8 190.6" stroke="#000" stroke-width="1" stroke-dasharray="1 3.2" stroke-opacity="0.62"/>
<path d="M98.0 439.1L101.7 412.6L102.6 424.3L104.8 404.4L106.3 389.8L109.8 367.4L110.6 377.5L112.7 359.0L114.1 360.1L117.4 345.5L118.2 344.3L120.2 332.4L121.5 367.0L125.7 323.7L126.7 334.1L129.2 311.0L130.9 329.3L134.9 310.4L135.8 315.4L138.2 289.2L139.9 334.2L143.8 301.4L144.7 314.7L147.1 295.2L148.7 325.4L152.3 288.1L153.1 297.2L155.2 275.0L156.6 329.0L160.0 279.9L160.8 297.7L162.8 270.7L164.1 304.1L168.1 277.9L169.0 281.1L171.3 260.1L174.6 269.7L176.2 334.6L177.5 285.6L178.6 328.5L179.8 253.4" stroke="#000" stroke-width="1" stroke-dasharray="1 3.2" stroke-opacity="0.62"/>
<path d="M98.0 384.9L101.7 358.6L102.6 370.4L104.8 350.6L106.3 336.1L109.8 313.9L110.6 324.0L112.7 305.6L114.1 306.8L117.4 292.5L118.2 291.3L120.2 279.5L121.5 314.2L125.7 271.1L126.7 281.6L129.2 258.7L130.9 277.1L134.9 258.4L135.8 263.5L138.2 237.4L139.9 282.5L143.8 249.9L144.7 263.4L147.1 244.0L148.7 274.2L152.3 237.2L153.1 246.4L155.2 224.3L156.6 278.4L160.0 229.6L160.8 247.4L162.8 220.6L164.1 254.0L168.1 228.1L169.0 231.4L171.3 210.6L174.6 220.4L176.2 285.4L177.5 236.5L178.6 279.5L179.8 204.5" stroke="#ff0000" stroke-width="1" stroke-dasharray="1 2.5" stroke-opacity="0.4"/>
<path d="M98.0 423.6L101.7 397.1L102.6 408.9L104.8 389.0L106.3 374.5L109.8 352.1L110.6 362.2L112.7 343.7L114.1 344.9L117.4 330.4L118.2 329.2L120.2 317.3L121.5 351.9L125.7 308.6L126.7 319.1L129.2 296.1L130.9 314.4L134.9 295.5L135.8 300.6L138.2 274.4L139.9 319.4L143.8 286.7L144.7 300.1L147.1 280.5L148.7 310.8L152.3 273.5L153.1 282.7L155.2 260.5L156.6 314.5L160.0 265.5L160.8 283.3L162.8 256.4L164.1 289.8L168.1 263.7L169.0 266.9L171.3 246.0L174.6 255.6L176.2 320.6L177.5 271.5L178.6 314.5L179.8 239.5" stroke="#ff0000" stroke-width="1" stroke-dasharray="1 2.5" stroke-opacity="0.4"/>
<path d="M180.6 204.8L181.3 180.0L182.1 177.2L183.4 181.7L184.7 180.8L186.0 180.5L187.3 182.2L188.6 181.5L189.9 180.3L191.2 177.8L192.5 179.1L193.8 178.0L195.1 176.0L196.4 175.0L197.7 171.7L199.0 168.6L200.3 178.1L201.6 165.9L202.9 162.7L204.2 161.6L205.5 161.6L206.8 157.9L208.1 157.7L209.4 157.3L210.7 153.6L212.0 152.7L213.3 152.4L214.6 148.8L215.9 148.6L217.2 147.8L218.5 145.9L219.8 145.6L221.1 144.3L222.4 143.0L223.7 142.2L225.0 141.6L226.3 140.9L227.6 143.9L228.9 141.8L230.2 141.0L231.5 142.4L232.8 140.9L234.1 140.6L235.4 140.4L236.7 141.7L238.0 142.4L239.3 144.0L240.6 145.1L241.9 144.6L243.2 144.9L244.5 142.6L245.8 144.2L247.1 143.8L248.4 144.2L249.7 146.5L251.0 150.9L252.3 154.3L253.6 150.1L254.9 146.7L256.2 145.5L257.5 141.9L258.8 140.0L260.1 138.8L261.4 136.5L262.7 135.1L264.0 135.6L265.3 135.0L266.6 133.7L267.9 135.5L269.2 135.3L270.5 134.5L271.8 133.7L273.1 134.7L274.4 133.3L275.7 133.0L277.0 132.9L278.3 133.6L279.6 133.1L280.9 131.6L282.2 131.4L283.5 131.1L284.8 130.7L286.1 131.1L287.4 132.4L288.7 131.7L290.0 131.5L291.3 131.4L292.6 130.7L293.9 130.6L295.2 131.3L296.5 131.5L297.8 132.1L299.1 133.3L300.4 134.5L301.7 133.5L303.0 134.5L304.3 135.3L305.6 135.9L306.9 134.7L308.2 134.0L309.5 132.8L310.8 133.7L312.1 132.9L313.4 133.6L314.7 134.3L316.0 133.2L317.3 133.1L318.6 133.3L319.9 133.5L321.2 133.4L322.5 132.2L323.8 132.9L325.1 133.0L326.4 132.3L327.7 133.0L329.0 133.4L330.3 134.2L331.6 134.6L332.9 133.5L334.2 133.8L335.5 134.6L336.8 133.8L338.1 134.7L339.4 136.2L340.7 135.3L342.0 136.0L343.3 136.6L344.6 135.8L345.9 136.9L347.2 137.5L348.5 137.8L349.8 136.7L351.1 136.5L352.4 137.6L353.7 137.9L355.0 137.1L356.3 137.7L357.6 138.0L358.9 138.3L360.2 137.9L361.5 138.9L362.8 138.9L364.1 138.3L365.4 137.9L366.7 137.9L368.0 138.4L369.3 139.3L370.6 138.3L371.9 138.9L373.2 140.0L374.5 139.9L375.8 140.3L377.1 140.3L378.4 141.2L379.7 141.9L381.0 142.2L382.3 141.6L383.6 141.6L384.9 142.3L386.2 143.1L387.5 143.5L388.8 142.7L390.1 142.7L391.4 144.4L392.7 144.8L394.0 144.2L395.3 153.9L396.6 147.7L397.9 158.4L399.2 148.2L400.5 151.6L401.8 146.2L403.1 146.1L404.4 145.9L405.7 146.9L407.0 146.4L408.3 148.0L409.6 147.6L410.9 147.9L412.2 148.0L413.5 148.2L414.8 149.2L416.1 149.6L417.4 149.6L418.7 150.4L420.0 149.9L421.3 150.5L422.6 151.1L423.9 151.6L425.2 151.8L426.5 153.0L427.8 153.1L429.1 152.5L430.4 153.0L431.7 152.8L433.0 153.1L434.3 152.8L435.6 153.0L436.9 153.7L438.2 153.4L439.5 154.0L440.8 154.3L442.1 154.6L443.4 153.9L444.7 154.9L446.0 155.2L447.3 155.2L448.6 155.1L449.9 155.9L451.2 156.2L452.5 156.5L453.8 156.2L455.1 157.5L456.4 157.9L457.7 158.0L459.0 158.8L460.3 158.9L461.6 160.6L462.9 161.2L464.2 161.7L465.5 162.5L466.8 162.5L468.1 163.2L469.4 163.8L470.7 164.3L472.0 163.9L473.3 165.0L474.6 164.7L475.9 165.0L477.2 165.0L478.5 165.9L479.8 166.4L481.1 166.7L482.4 166.9L483.7 168.0L485.0 168.0L486.3 169.2L487.6 169.4L488.9 169.6L490.2 170.4L494.7 170.4" stroke="#000" stroke-width="1" stroke-dasharray="1 3.2" stroke-opacity="0.8"/>
<path d="M180.6 267.2L181.3 242.0L182.1 238.8L183.4 242.6L184.7 241.0L186.0 240.0L187.3 241.0L188.6 239.6L189.9 237.6L191.2 234.4L192.5 235.1L193.8 233.2L195.1 230.5L196.4 228.7L197.7 224.7L199.0 220.8L200.3 229.6L201.6 216.7L202.9 212.7L204.2 210.9L205.5 210.1L206.8 205.6L208.1 204.7L209.4 203.5L210.7 199.0L212.0 197.4L213.3 196.4L214.6 192.5L215.9 191.9L217.2 190.7L218.5 188.5L219.8 187.8L221.1 186.2L222.4 184.6L223.7 183.4L225.0 182.5L226.3 181.5L227.6 184.1L228.9 181.6L230.2 180.5L231.5 181.6L232.8 179.7L234.1 179.0L235.4 178.4L236.7 179.4L238.0 179.7L239.3 181.0L240.6 181.7L241.9 180.8L243.2 180.8L244.5 178.4L245.8 180.0L247.1 179.4L248.4 179.7L249.7 181.9L251.0 186.2L252.3 189.5L253.6 185.3L254.9 181.8L256.2 180.4L257.5 176.7L258.8 174.7L260.1 173.5L261.4 171.1L262.7 169.5L264.0 170.0L265.3 169.3L266.6 167.9L267.9 169.5L269.2 169.2L270.5 168.3L271.8 167.4L273.1 168.3L274.4 166.8L275.7 166.3L277.0 166.2L278.3 166.8L279.6 166.1L280.9 164.6L282.2 164.3L283.5 163.8L284.8 163.4L286.1 163.6L287.4 164.8L288.7 164.0L290.0 163.6L291.3 163.4L292.6 162.7L293.9 162.4L295.2 163.0L296.5 163.1L297.8 163.6L299.1 164.7L300.4 165.8L301.7 164.6L303.0 165.5L304.3 166.2L305.6 166.7L306.9 165.3L308.2 164.6L309.5 163.2L310.8 164.0L312.1 163.0L313.4 163.7L314.7 164.2L316.0 163.0L317.3 162.8L318.6 162.8L319.9 162.9L321.2 162.7L322.5 161.4L323.8 162.0L325.1 162.0L326.4 161.2L327.7 161.8L329.0 162.1L330.3 162.7L331.6 163.0L332.9 161.8L334.2 162.0L335.5 162.7L336.8 161.8L338.1 162.6L339.4 163.9L340.7 163.0L342.0 163.5L343.3 164.0L344.6 163.1L345.9 164.0L347.2 164.5L348.5 164.7L349.8 163.5L351.1 163.2L352.4 164.2L353.7 164.4L355.0 163.5L356.3 163.9L357.6 164.1L358.9 164.2L360.2 163.7L361.5 164.6L362.8 164.5L364.1 163.8L365.4 163.3L366.7 163.1L368.0 163.5L369.3 164.2L370.6 163.1L371.9 163.6L373.2 164.6L374.5 164.4L375.8 164.6L377.1 164.5L378.4 165.2L379.7 165.8L381.0 166.0L382.3 165.2L383.6 165.1L384.9 165.7L386.2 166.3L387.5 166.6L388.8 165.6L390.1 165.5L391.4 167.1L392.7 167.4L394.0 166.6L395.3 176.3L396.6 169.9L397.9 180.6L399.2 170.3L400.5 173.6L401.8 168.1L403.1 167.8L404.4 167.5L405.7 168.5L407.0 167.9L408.3 169.3L409.6 168.9L410.9 169.1L412.2 169.1L413.5 169.2L414.8 170.0L416.1 170.4L417.4 170.3L418.7 171.0L420.0 170.4L421.3 170.8L422.6 171.4L423.9 171.8L425.2 171.9L426.5 172.9L427.8 172.9L429.1 172.2L430.4 172.6L431.7 172.4L433.0 172.5L434.3 172.1L435.6 172.2L436.9 172.8L438.2 172.4L439.5 172.9L440.8 173.1L442.1 173.4L443.4 172.6L444.7 173.5L446.0 173.8L447.3 173.7L448.6 173.6L449.9 174.2L451.2 174.5L452.5 174.7L453.8 174.4L455.1 175.6L456.4 175.9L457.7 175.9L459.0 176.7L460.3 176.7L461.6 178.4L462.9 178.9L464.2 179.3L465.5 180.1L466.8 180.0L468.1 180.7L469.4 181.1L470.7 181.6L472.0 181.2L473.3 182.1L474.6 181.8L475.9 182.1L477.2 182.0L478.5 182.8L479.8 183.2L481.1 183.5L482.4 183.6L483.7 184.6L485.0 184.5L486.3 185.6L487.6 185.8L488.9 185.9L490.2 186.6L494.7 186.4" stroke="#000" stroke-width="1" stroke-dasharray="1 3.2" stroke-opacity="0.8"/>
<path d="M180.6 218.7L181.3 193.8L182.1 190.8L183.4 195.2L184.7 194.2L186.0 193.7L187.3 195.3L188.6 194.4L189.9 193.0L191.2 190.4L192.5 191.6L193.8 190.3L195.1 188.1L196.4 186.9L197.7 183.5L199.0 180.2L200.3 189.5L201.6 177.2L202.9 173.8L204.2 172.6L205.5 172.4L206.8 168.5L208.1 168.1L209.4 167.5L210.7 163.7L212.0 162.6L213.3 162.2L214.6 158.5L215.9 158.2L217.2 157.3L218.5 155.4L219.8 155.0L221.1 153.6L222.4 152.2L223.7 151.3L225.0 150.7L226.3 150.0L227.6 152.8L228.9 150.6L230.2 149.8L231.5 151.1L232.8 149.5L234.1 149.2L235.4 148.8L236.7 150.1L238.0 150.7L239.3 152.3L240.6 153.2L241.9 152.6L243.2 152.9L244.5 150.5L245.8 152.2L247.1 151.7L248.4 152.1L249.7 154.4L251.0 158.7L252.3 162.1L253.6 157.9L254.9 154.5L256.2 153.3L257.5 149.6L258.8 147.7L260.1 146.5L261.4 144.2L262.7 142.8L264.0 143.2L265.3 142.7L266.6 141.3L267.9 143.1L269.2 142.8L270.5 142.0L271.8 141.1L273.1 142.2L274.4 140.7L275.7 140.4L277.0 140.3L278.3 141.0L279.6 140.4L280.9 139.0L282.2 138.7L283.5 138.4L284.8 138.0L286.1 138.3L287.4 139.6L288.7 138.9L290.0 138.6L291.3 138.5L292.6 137.8L293.9 137.7L295.2 138.3L296.5 138.6L297.8 139.1L299.1 140.3L300.4 141.5L301.7 140.4L303.0 141.4L304.3 142.2L305.6 142.8L306.9 141.5L308.2 140.8L309.5 139.5L310.8 140.5L312.1 139.6L313.4 140.3L314.7 141.0L316.0 139.9L317.3 139.7L318.6 139.8L319.9 140.0L321.2 139.9L322.5 138.7L323.8 139.4L325.1 139.4L326.4 138.7L327.7 139.4L329.0 139.8L330.3 140.5L331.6 140.9L332.9 139.8L334.2 140.1L335.5 140.8L336.8 140.0L338.1 140.9L339.4 142.3L340.7 141.5L342.0 142.1L343.3 142.7L344.6 141.9L345.9 142.9L347.2 143.5L348.5 143.8L349.8 142.7L351.1 142.4L352.4 143.5L353.7 143.8L355.0 143.0L356.3 143.5L357.6 143.8L358.9 144.0L360.2 143.6L361.5 144.6L362.8 144.6L364.1 144.0L365.4 143.6L366.7 143.5L368.0 144.0L369.3 144.8L370.6 143.8L371.9 144.3L373.2 145.5L374.5 145.4L375.8 145.7L377.1 145.7L378.4 146.5L379.7 147.2L381.0 147.5L382.3 146.8L383.6 146.8L384.9 147.5L386.2 148.3L387.5 148.6L388.8 147.8L390.1 147.7L391.4 149.5L392.7 149.8L394.0 149.1L395.3 158.9L396.6 152.6L397.9 163.3L399.2 153.1L400.5 156.5L401.8 151.1L403.1 150.9L404.4 150.7L405.7 151.7L407.0 151.2L408.3 152.7L409.6 152.3L410.9 152.6L412.2 152.7L413.5 152.9L414.8 153.8L416.1 154.2L417.4 154.2L418.7 155.0L420.0 154.5L421.3 155.0L422.6 155.6L423.9 156.1L425.2 156.3L426.5 157.4L427.8 157.5L429.1 156.8L430.4 157.4L431.7 157.2L433.0 157.4L434.3 157.1L435.6 157.3L436.9 158.0L438.2 157.6L439.5 158.2L440.8 158.4L442.1 158.8L443.4 158.1L444.7 159.0L446.0 159.4L447.3 159.3L448.6 159.2L449.9 160.0L451.2 160.3L452.5 160.5L453.8 160.3L455.1 161.5L456.4 161.9L457.7 162.0L459.0 162.8L460.3 162.8L461.6 164.6L462.9 165.1L464.2 165.6L465.5 166.4L466.8 166.4L468.1 167.1L469.4 167.6L470.7 168.1L472.0 167.8L473.3 168.8L474.6 168.5L475.9 168.8L477.2 168.8L478.5 169.7L479.8 170.1L481.1 170.4L482.4 170.6L483.7 171.7L485.0 171.6L486.3 172.8L487.6 173.1L488.9 173.3L490.2 174.0L494.7 173.9" stroke="#ff0000" stroke-width="1" stroke-dasharray="1 2.5" stroke-opacity="0.62"/>
<path d="M180.6 253.3L181.3 228.2L182.1 225.1L183.4 229.0L184.7 227.6L186.0 226.8L187.3 227.9L188.6 226.6L189.9 224.9L191.2 221.8L192.5 222.6L193.8 220.9L195.1 218.4L196.4 216.7L197.7 212.9L199.0 209.2L200.3 218.1L201.6 205.4L202.9 201.6L204.2 199.9L205.5 199.3L206.8 195.0L208.1 194.2L209.4 193.2L210.7 188.9L212.0 187.4L213.3 186.7L214.6 182.8L215.9 182.2L217.2 181.2L218.5 179.0L219.8 178.5L221.1 176.9L222.4 175.3L223.7 174.2L225.0 173.4L226.3 172.5L227.6 175.1L228.9 172.8L230.2 171.7L231.5 172.9L232.8 171.1L234.1 170.5L235.4 170.0L236.7 171.0L238.0 171.4L239.3 172.8L240.6 173.6L241.9 172.8L243.2 172.9L244.5 170.5L245.8 172.0L247.1 171.5L248.4 171.8L249.7 174.1L251.0 178.4L252.3 181.7L253.6 177.4L254.9 174.0L256.2 172.7L257.5 169.0L258.8 167.0L260.1 165.8L261.4 163.4L262.7 161.9L264.0 162.3L265.3 161.7L266.6 160.3L267.9 162.0L269.2 161.7L270.5 160.8L271.8 159.9L273.1 160.9L274.4 159.3L275.7 158.9L277.0 158.8L278.3 159.4L279.6 158.8L280.9 157.3L282.2 157.0L283.5 156.5L284.8 156.1L286.1 156.4L287.4 157.6L288.7 156.8L290.0 156.5L291.3 156.3L292.6 155.6L293.9 155.4L295.2 155.9L296.5 156.1L297.8 156.6L299.1 157.7L300.4 158.8L301.7 157.7L303.0 158.6L304.3 159.3L305.6 159.8L306.9 158.5L308.2 157.8L309.5 156.4L310.8 157.3L312.1 156.3L313.4 157.0L314.7 157.6L316.0 156.4L317.3 156.2L318.6 156.3L319.9 156.4L321.2 156.2L322.5 154.9L323.8 155.6L325.1 155.6L326.4 154.7L327.7 155.4L329.0 155.7L330.3 156.4L331.6 156.7L332.9 155.5L334.2 155.7L335.5 156.4L336.8 155.6L338.1 156.4L339.4 157.8L340.7 156.8L342.0 157.4L343.3 157.9L344.6 157.0L345.9 158.0L347.2 158.5L348.5 158.8L349.8 157.6L351.1 157.3L352.4 158.3L353.7 158.5L355.0 157.6L356.3 158.1L357.6 158.3L358.9 158.4L360.2 158.0L361.5 158.9L362.8 158.8L364.1 158.2L365.4 157.7L366.7 157.5L368.0 158.0L369.3 158.7L370.6 157.6L371.9 158.1L373.2 159.1L374.5 158.9L375.8 159.2L377.1 159.1L378.4 159.9L379.7 160.5L381.0 160.7L382.3 160.0L383.6 159.9L384.9 160.5L386.2 161.2L387.5 161.4L388.8 160.5L390.1 160.4L391.4 162.1L392.7 162.4L394.0 161.6L395.3 171.3L396.6 165.0L397.9 175.6L399.2 165.4L400.5 168.7L401.8 163.2L403.1 163.0L404.4 162.7L405.7 163.7L407.0 163.1L408.3 164.6L409.6 164.1L410.9 164.4L412.2 164.4L413.5 164.6L414.8 165.4L416.1 165.8L417.4 165.7L418.7 166.4L420.0 165.9L421.3 166.3L422.6 166.9L423.9 167.3L425.2 167.4L426.5 168.5L427.8 168.5L429.1 167.8L430.4 168.3L431.7 168.0L433.0 168.2L434.3 167.8L435.6 168.0L436.9 168.6L438.2 168.2L439.5 168.7L440.8 168.9L442.1 169.2L443.4 168.5L444.7 169.4L446.0 169.7L447.3 169.5L448.6 169.5L449.9 170.2L451.2 170.5L452.5 170.7L453.8 170.4L455.1 171.6L456.4 171.9L457.7 171.9L459.0 172.7L460.3 172.8L461.6 174.4L462.9 174.9L464.2 175.4L465.5 176.2L466.8 176.1L468.1 176.8L469.4 177.3L470.7 177.8L472.0 177.3L473.3 178.3L474.6 178.0L475.9 178.3L477.2 178.2L478.5 179.1L479.8 179.5L481.1 179.7L482.4 179.9L483.7 181.0L485.0 180.8L486.3 182.0L487.6 182.2L488.9 182.3L490.2 183.0L494.7 182.8" stroke="#ff0000" stroke-width="1" stroke-dasharray="1 2.5" stroke-opacity="0.62"/>
</g>
<g clip-path="url(#ci)" fill="none" stroke-linejoin="round" stroke="#ff0000">
<path d="M98.0 404.2L101.7 377.9L102.6 389.7L104.8 369.8L106.3 355.3L109.8 333.0L110.6 343.1L112.7 324.7L114.1 325.8L117.4 311.4L118.2 310.2L120.2 298.4L121.5 333.0L125.7 289.9L126.7 300.3L129.2 277.4L130.9 295.7L134.9 277.0L135.8 282.0L138.2 255.9L139.9 300.9L143.8 268.3L144.7 281.7L147.1 262.3L148.7 292.5L152.3 255.4L153.1 264.6L155.2 242.4L156.6 296.4L160.0 247.6L160.8 265.4L162.8 238.5L164.1 271.9L168.1 245.9L169.0 249.1L171.3 228.3L174.6 238.0L176.2 303.0L177.5 254.0L178.6 297.0L179.8 222.0" stroke-width="0.95" stroke-dasharray="4.6 2.6 0.9 2.6"/>
<path d="M180.6 236.0L181.3 211.0L182.1 208.0L183.4 212.1L184.7 210.9L186.0 210.2L187.3 211.6L188.6 210.5L189.9 208.9L191.2 206.1L192.5 207.1L193.8 205.6L195.1 203.2L196.4 201.8L197.7 198.2L199.0 194.7L200.3 203.8L201.6 191.3L202.9 187.7L204.2 186.3L205.5 185.8L206.8 181.7L208.1 181.2L209.4 180.4L210.7 176.3L212.0 175.0L213.3 174.4L214.6 170.6L215.9 170.2L217.2 169.3L218.5 167.2L219.8 166.7L221.1 165.2L222.4 163.8L223.7 162.8L225.0 162.0L226.3 161.2L227.6 164.0L228.9 161.7L230.2 160.8L231.5 162.0L232.8 160.3L234.1 159.8L235.4 159.4L236.7 160.5L238.0 161.1L239.3 162.5L240.6 163.4L241.9 162.7L243.2 162.9L244.5 160.5L245.8 162.1L247.1 161.6L248.4 162.0L249.7 164.2L251.0 168.6L252.3 171.9L253.6 167.7L254.9 164.3L256.2 163.0L257.5 159.3L258.8 157.4L260.1 156.2L261.4 153.8L262.7 152.3L264.0 152.8L265.3 152.2L266.6 150.8L267.9 152.5L269.2 152.2L270.5 151.4L271.8 150.5L273.1 151.5L274.4 150.0L275.7 149.7L277.0 149.6L278.3 150.2L279.6 149.6L280.9 148.1L282.2 147.8L283.5 147.4L284.8 147.1L286.1 147.4L287.4 148.6L288.7 147.8L290.0 147.5L291.3 147.4L292.6 146.7L293.9 146.5L295.2 147.1L296.5 147.3L297.8 147.8L299.1 149.0L300.4 150.1L301.7 149.0L303.0 150.0L304.3 150.7L305.6 151.3L306.9 150.0L308.2 149.3L309.5 148.0L310.8 148.9L312.1 148.0L313.4 148.7L314.7 149.3L316.0 148.1L317.3 147.9L318.6 148.1L319.9 148.2L321.2 148.0L322.5 146.8L323.8 147.5L325.1 147.5L326.4 146.7L327.7 147.4L329.0 147.8L330.3 148.5L331.6 148.8L332.9 147.6L334.2 147.9L335.5 148.6L336.8 147.8L338.1 148.7L339.4 150.1L340.7 149.2L342.0 149.7L343.3 150.3L344.6 149.4L345.9 150.4L347.2 151.0L348.5 151.3L349.8 150.1L351.1 149.9L352.4 150.9L353.7 151.2L355.0 150.3L356.3 150.8L357.6 151.0L358.9 151.2L360.2 150.8L361.5 151.7L362.8 151.7L364.1 151.1L365.4 150.6L366.7 150.5L368.0 151.0L369.3 151.7L370.6 150.7L371.9 151.2L373.2 152.3L374.5 152.2L375.8 152.5L377.1 152.4L378.4 153.2L379.7 153.9L381.0 154.1L382.3 153.4L383.6 153.4L384.9 154.0L386.2 154.7L387.5 155.0L388.8 154.1L390.1 154.1L391.4 155.8L392.7 156.1L394.0 155.4L395.3 165.1L396.6 158.8L397.9 169.5L399.2 159.2L400.5 162.6L401.8 157.2L403.1 156.9L404.4 156.7L405.7 157.7L407.0 157.1L408.3 158.6L409.6 158.2L410.9 158.5L412.2 158.6L413.5 158.7L414.8 159.6L416.1 160.0L417.4 159.9L418.7 160.7L420.0 160.2L421.3 160.6L422.6 161.3L423.9 161.7L425.2 161.9L426.5 162.9L427.8 163.0L429.1 162.3L430.4 162.8L431.7 162.6L433.0 162.8L434.3 162.5L435.6 162.6L436.9 163.3L438.2 162.9L439.5 163.5L440.8 163.7L442.1 164.0L443.4 163.3L444.7 164.2L446.0 164.5L447.3 164.4L448.6 164.3L449.9 165.1L451.2 165.4L452.5 165.6L453.8 165.3L455.1 166.5L456.4 166.9L457.7 166.9L459.0 167.8L460.3 167.8L461.6 169.5L462.9 170.0L464.2 170.5L465.5 171.3L466.8 171.3L468.1 172.0L469.4 172.4L470.7 173.0L472.0 172.6L473.3 173.5L474.6 173.3L475.9 173.6L477.2 173.5L478.5 174.4L479.8 174.8L481.1 175.1L482.4 175.2L483.7 176.3L485.0 176.2L486.3 177.4L487.6 177.6L488.9 177.8L490.2 178.5L494.7 178.4" stroke-width="1.2" stroke-dasharray="4.6 2.6 0.9 2.6"/>
</g>
<g fill="none" stroke="#000" stroke-width="1.3">
<circle cx="125.0" cy="276.7" r="2.85"/>
<circle cx="132.7" cy="283.1" r="2.85"/>
<circle cx="133.5" cy="277.7" r="2.85"/>
<circle cx="137.6" cy="277.7" r="2.85"/>
<circle cx="137.6" cy="279.4" r="2.85"/>
<circle cx="142.1" cy="268.4" r="2.85"/>
<circle cx="142.6" cy="270.8" r="2.85"/>
<circle cx="147.5" cy="279.1" r="2.85"/>
<circle cx="152.6" cy="255.8" r="2.85"/>
<circle cx="152.6" cy="256.6" r="2.85"/>
<circle cx="182.1" cy="209.4" r="2.85"/>
<circle cx="191.2" cy="207.2" r="2.85"/>
<circle cx="197.0" cy="199.8" r="2.85"/>
<circle cx="210.5" cy="177.2" r="2.85"/>
<circle cx="217.1" cy="168.8" r="2.85"/>
<circle cx="230.5" cy="162.3" r="2.85"/>
<circle cx="242.7" cy="161.8" r="2.85"/>
<circle cx="246.3" cy="161.1" r="2.85"/>
<circle cx="257.3" cy="158.4" r="2.85"/>
<circle cx="272.5" cy="150.4" r="2.85"/>
<circle cx="285.4" cy="146.5" r="2.85"/>
<circle cx="286.8" cy="147.7" r="2.85"/>
<circle cx="288.6" cy="149.7" r="2.85"/>
<circle cx="296.6" cy="145.9" r="2.85"/>
<circle cx="311.3" cy="148.3" r="2.85"/>
<circle cx="324.6" cy="147.4" r="2.85"/>
<circle cx="330.0" cy="147.4" r="2.85"/>
<circle cx="342.0" cy="149.5" r="2.85"/>
<circle cx="355.9" cy="150.6" r="2.85"/>
<circle cx="358.6" cy="150.0" r="2.85"/>
<circle cx="370.5" cy="150.6" r="2.85"/>
<circle cx="375.9" cy="153.3" r="2.85"/>
<circle cx="378.8" cy="153.6" r="2.85"/>
<circle cx="389.8" cy="154.1" r="2.85"/>
<circle cx="430.5" cy="163.1" r="2.85"/>
<circle cx="437.5" cy="162.0" r="2.85"/>
<circle cx="438.9" cy="162.4" r="2.85"/>
<circle cx="445.7" cy="163.8" r="2.85"/>
<circle cx="450.5" cy="164.5" r="2.85"/>
<circle cx="454.6" cy="164.9" r="2.85"/>
<circle cx="460.9" cy="168.3" r="2.85"/>
</g>
<g stroke="#000" stroke-width="1.2" fill="none" stroke-linecap="butt">
<rect x="68.8" y="3.4" width="903.2" height="329.5"/>
<rect x="98.1" y="116.9" width="393.0" height="184.4"/>
<path d="M86.2 81.6L98.1 116.9M307.6 33.0L491.1 116.9"/>
<path d="M68.8 296.8h18M972.0 296.8h-18M68.8 244.4h18M972.0 244.4h-18M68.8 192.0h18M972.0 192.0h-18M68.8 139.6h18M972.0 139.6h-18M68.8 87.2h18M972.0 87.2h-18M68.8 34.8h18M972.0 34.8h-18M121.9 3.4v3.3M121.9 332.9v-3.3M163.1 3.4v3.3M163.1 332.9v-3.3M196.7 3.4v3.3M196.7 332.9v-3.3M225.2 3.4v3.3M225.2 332.9v-3.3M249.8 3.4v3.3M249.8 332.9v-3.3M271.6 3.4v3.3M271.6 332.9v-3.3M418.9 3.4v3.3M418.9 332.9v-3.3M493.8 3.4v3.3M493.8 332.9v-3.3M546.9 3.4v3.3M546.9 332.9v-3.3M588.1 3.4v3.3M588.1 332.9v-3.3M621.7 3.4v3.3M621.7 332.9v-3.3M650.2 3.4v3.3M650.2 332.9v-3.3M674.8 3.4v3.3M674.8 332.9v-3.3M696.6 3.4v3.3M696.6 332.9v-3.3M843.9 3.4v3.3M843.9 332.9v-3.3M918.8 3.4v3.3M918.8 332.9v-3.3M291.0 3.4v6.4M291.0 332.9v-6.4M716.0 3.4v6.4M716.0 332.9v-6.4"/>
</g>
<g fill="#000" stroke="#000" stroke-width="0.25" style="filter:grayscale(1)">
<text x="39.0" y="302.9" font-size="15.6" textLength="18.4" lengthAdjust="spacingAndGlyphs">10</text>
<text x="57.9" y="296.2" font-size="10.6">1</text>
<text x="39.0" y="250.5" font-size="15.6" textLength="18.4" lengthAdjust="spacingAndGlyphs">10</text>
<text x="57.9" y="243.8" font-size="10.6">2</text>
<text x="39.0" y="198.1" font-size="15.6" textLength="18.4" lengthAdjust="spacingAndGlyphs">10</text>
<text x="57.9" y="191.4" font-size="10.6">3</text>
<text x="39.0" y="145.7" font-size="15.6" textLength="18.4" lengthAdjust="spacingAndGlyphs">10</text>
<text x="57.9" y="139.0" font-size="10.6">4</text>
<text x="39.0" y="93.3" font-size="15.6" textLength="18.4" lengthAdjust="spacingAndGlyphs">10</text>
<text x="57.9" y="86.6" font-size="10.6">5</text>
<text x="39.0" y="40.9" font-size="15.6" textLength="18.4" lengthAdjust="spacingAndGlyphs">10</text>
<text x="57.9" y="34.2" font-size="10.6">6</text>
<text x="291" y="355.6" font-size="15.6" text-anchor="middle">1</text>
<text x="707.0" y="355.7" font-size="15.6" textLength="18.4" lengthAdjust="spacingAndGlyphs">10</text>
<text x="155.0" y="62.5" font-size="14.4" textLength="106.3" lengthAdjust="spacing">B76+K87+A96</text>
<text x="459.3" y="66.8" font-size="14.2" textLength="28.4" lengthAdjust="spacingAndGlyphs">IRTF</text>
<text x="496.2" y="66.8" font-size="14.4" textLength="39.4" lengthAdjust="spacing">x1.08</text>
<text x="723.0" y="187.9" font-size="14.2" textLength="28.6" lengthAdjust="spacingAndGlyphs">SWS</text>
<text x="452.6" y="375.0" font-size="14.7" textLength="85" lengthAdjust="spacingAndGlyphs">Wavelength</text>
<text x="546.6" y="375.0" font-size="18">(</text>
<text x="553.0" y="375.0" font-size="15.2" font-style="italic" textLength="12.0" lengthAdjust="spacingAndGlyphs">μ</text>
<text x="566.0" y="375.0" font-size="14.7">m</text>
<text x="582.2" y="375.0" font-size="18">)</text>
<text transform="translate(23.8 254.0) rotate(-90)" font-size="14.6" textLength="6.8" lengthAdjust="spacingAndGlyphs">f</text>
<text transform="translate(28.6 247.0) rotate(-90)" font-size="10.8" textLength="7.2" lengthAdjust="spacingAndGlyphs">λ</text>
<text transform="translate(23.8 225.6) rotate(-90)" font-size="14.6" textLength="24.8" lengthAdjust="spacingAndGlyphs">erg</text>
<text transform="translate(23.8 194.5) rotate(-90)" font-size="14.6" textLength="25.0" lengthAdjust="spacingAndGlyphs">cm</text>
<text transform="translate(16.6 168.0) rotate(-90)" font-size="10.6" textLength="15.0" lengthAdjust="spacingAndGlyphs">−2</text>
<text transform="translate(23.8 146.0) rotate(-90)" font-size="14.6" textLength="8.0" lengthAdjust="spacingAndGlyphs">s</text>
<text transform="translate(16.6 137.4) rotate(-90)" font-size="10.6" textLength="13.6" lengthAdjust="spacingAndGlyphs">−1</text>
<text transform="translate(23.9 116.4) rotate(-90)" font-size="14.8" textLength="10.8" lengthAdjust="spacingAndGlyphs">Å</text>
<text transform="translate(16.6 105.8) rotate(-90)" font-size="10.6" textLength="13.6" lengthAdjust="spacingAndGlyphs">−1</text>
</g>
<path d="M10.9 226.2V230.3H28.6V226.2M10.9 91.4V87.4H28.6V91.4" fill="none" stroke="#111" stroke-width="1.15"/>
</svg>
</body></html>
